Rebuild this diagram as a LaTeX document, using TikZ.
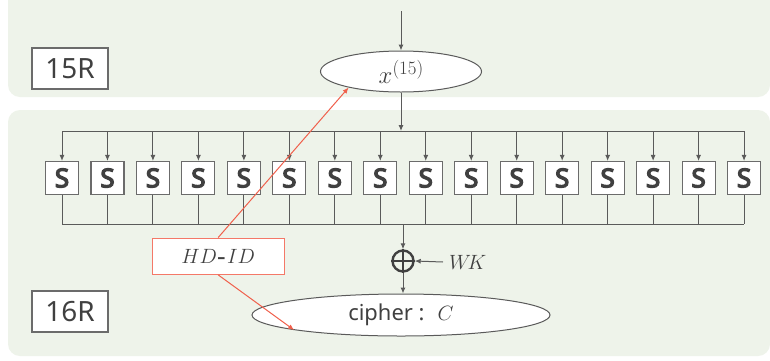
\documentclass[tikz,border=0pt]{standalone}
\usepackage{fontspec}
\newfontfamily\nsans{Noto Sans}
\newfontfamily\nsansb[FakeBold=5]{Noto Sans}
\usetikzlibrary{arrows.meta,shapes.geometric}
\definecolor{panel}{RGB}{238,243,234}
\definecolor{ln}{RGB}{90,90,90}
\definecolor{txt}{RGB}{64,64,64}
\definecolor{redl}{RGB}{240,96,76}
\definecolor{redb}{RGB}{244,120,104}
\tikzset{
  panelbox/.style={fill=panel,draw=none,rounded corners=12bp},
  roundbox/.style={draw=ln!90,line width=1.1bp,fill=white,minimum width=76bp,minimum height=41bp,inner sep=0pt,text=txt,font=\nsans\fontsize{28}{30}\selectfont},
  sbox/.style={draw=ln!90,line width=1.1bp,fill=white,minimum width=33bp,minimum height=33bp,inner sep=0pt,text=txt,font=\nsansb\fontsize{26}{28}\selectfont},
  oval/.style={ellipse,draw=ln,line width=1bp,fill=white,inner sep=0pt,text=txt},
  conn/.style={draw=ln,line width=1bp},
  arr/.style={conn,-{Latex[length=6bp,width=5bp]}},
  redarr/.style={draw=redl,line width=1bp,-{Latex[length=6bp,width=5bp]}},
}
\begin{document}
\begin{tikzpicture}[x=1bp,y=-1bp]
\useasboundingbox (0,0) rectangle (770,360);
\fill[white] (0,0) rectangle (770,360);
% panels
\path[panelbox] (8,-30) rectangle (770,97);
\path[panelbox] (8,110) rectangle (770,356);
% round labels
\node[roundbox] (r15) at (70,68.5) {15R};
\node[roundbox] (r16) at (70,311.5) {16R};
% x15 ellipse
\node[oval,minimum width=161bp,minimum height=41bp,font=\fontsize{25}{26}\selectfont] (x15) at (401,71.5) {$x$\raisebox{9bp}{\fontsize{19}{20}\selectfont(15)}};
\coordinate (inT) at (401,11);
\draw[arr] (inT) -- (x15.north);
% S boxes
\foreach \i in {1,...,16}{
  \node[sbox] (s\i) at ({62+45.47*(\i-1)},178) {S};
}
\coordinate (busT) at (401,131);
\coordinate (busB) at (403,224);
\draw[arr] (x15.south) -- (busT);
\draw[conn] (s1.north |- busT) -- (s16.north |- busT);
\draw[conn] (s1.south |- busB) -- (s16.south |- busB);
\foreach \i in {1,...,16}{
  \draw[arr] (s\i.north |- busT) -- (s\i.north);
  \draw[conn] (s\i.south) -- (s\i.south |- busB);
}
% xor
\node[circle,draw=txt,line width=2.4bp,minimum size=21bp,inner sep=0pt] (xor) at (403,261) {};
\draw[txt,line width=2.4bp] (xor.north) -- (xor.south) (xor.west) -- (xor.east);
\draw[arr] (busB) -- (xor.north);
\node[anchor=west,inner sep=0pt,text=txt,font=\fontsize{22}{24}\selectfont] (wk) at (449,262) {$W\!K$};
\draw[arr] (wk.west) ++(-6,0) coordinate (wkin) (wkin) -- (xor.east);
% cipher
\node[oval,minimum width=298bp,minimum height=42bp,font=\fontsize{22}{24}\selectfont] (ciph) at (401,315) {{\nsans cipher :}\ \ $C$};
\draw[arr] (xor.south) -- (xor.south |- ciph.north);
% HD-ID
\node[draw=redb,line width=1.1bp,fill=white,minimum width=131.7bp,minimum height=36.3bp,inner sep=0pt,text=txt,font=\fontsize{22}{24}\selectfont] (hd) at (218.2,256.2) {$HD$\hspace{1pt}\textbf{-}\hspace{1pt}$ID$};
\draw[redarr] (hd.north) -- (x15.197);
\draw[redarr] (hd.south) -- (ciph.188);
\end{tikzpicture}
\end{document}
